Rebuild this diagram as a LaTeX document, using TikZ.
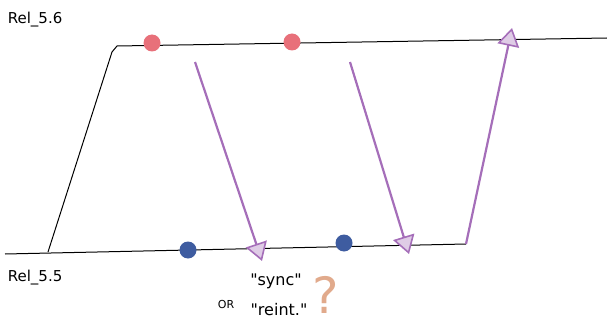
\documentclass[tikz,border=0pt]{standalone}
\usepackage{fontspec}
\setmainfont{DejaVu Sans}[Ligatures=TeXOff]
\usetikzlibrary{arrows.meta}
\definecolor{lila}{RGB}{165,110,185}
\definecolor{rosa}{RGB}{232,112,122}
\definecolor{blau}{RGB}{62,92,160}
\definecolor{ocker}{RGB}{225,170,140}
\tikzset{
  dot/.style={circle,inner sep=0pt,minimum size=17pt},
  msg/.style={lila,line width=2.2pt,-{Triangle[open,length=18pt,width=22pt,line width=1.6pt,fill=lila!35]}},
  rel/.style={font=\fontsize{15}{15}\selectfont,anchor=west},
  say/.style={font=\fontsize{16}{16}\selectfont},
}
\begin{document}
\begin{tikzpicture}[x=1pt,y=-1pt,line width=1pt]
			\useasboundingbox (0,0) rectangle (607,326);
			% release lines
			\coordinate (b0) at (5,254);
			\coordinate (b1) at (48,252);
			\coordinate (b2) at (466,244);
			\coordinate (t0) at (117,46);
			\coordinate (t1) at (607,38);
			\draw (b0)--(b2);
			\draw (b1)--(112,52)--(t0)--(t1);
			\node[rel] (r56) at (4,20) {Rel\_5.6};
			\node[rel] (r55) at (4,278) {Rel\_5.5};
			% commits
			\node[dot,fill=rosa] (a1) at (152,43) {};
			\node[dot,fill=rosa] (a2) at (292,42) {};
			\node[dot,fill=blau] (c1) at (188,250) {};
			\node[dot,fill=blau] (c2) at (344,243) {};
			% merges
			\coordinate (m1) at (262,261);
			\coordinate (m2) at (409,254);
			\coordinate (m3) at (512,28);
			\draw[msg] (195,62)--(m1);
			\draw[msg] (350,62)--(m2);
			\draw[msg] (b2)--(m3);
			\node[say] (sync) at (276,281) {"sync"};
			\node[font=\fontsize{11}{11}\selectfont] (or) at (226,304) {OR};
			\node[say] (reint) at (279,310) {"reint."};
			\node[ocker,font=\fontsize{50}{50}\selectfont] (q) at (326,295) {?};
		\end{tikzpicture}
\end{document}
